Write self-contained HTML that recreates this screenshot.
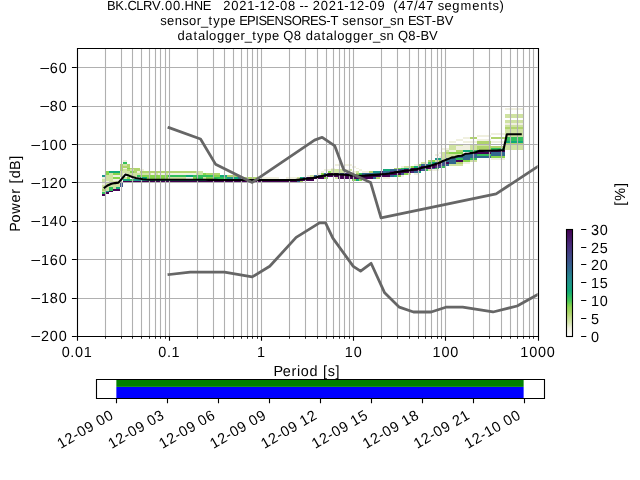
<!DOCTYPE html>
<html><head><meta charset="utf-8"><title>PPSD BK.CLRV.00.HNE</title>
<style>html,body{margin:0;padding:0;background:#fff;overflow:hidden}body{width:640px;height:480px}</style></head>
<body>
<svg width="640" height="480" viewBox="0 0 640 480" style="display:block;will-change:transform;font-family:'Liberation Sans',sans-serif" text-rendering="geometricPrecision">
<rect width="640" height="480" fill="#ffffff"/>
<defs><clipPath id="ca"><rect x="76.8" y="48" width="460.8" height="288"/></clipPath>
<linearGradient id="cbg" x1="0" y1="1" x2="0" y2="0"><stop offset="0" stop-color="#ffffff"/><stop offset="0.03" stop-color="#f8f8f0"/><stop offset="0.07" stop-color="#f1f1e1"/><stop offset="0.1" stop-color="#e2eac6"/><stop offset="0.13" stop-color="#d3e4a9"/><stop offset="0.17" stop-color="#c4dd8f"/><stop offset="0.2" stop-color="#b6d776"/><stop offset="0.23" stop-color="#a4d463"/><stop offset="0.27" stop-color="#90d454"/><stop offset="0.3" stop-color="#72cf50"/><stop offset="0.33" stop-color="#4bc657"/><stop offset="0.37" stop-color="#2dbc61"/><stop offset="0.4" stop-color="#1db16e"/><stop offset="0.43" stop-color="#11a67a"/><stop offset="0.47" stop-color="#199e83"/><stop offset="0.5" stop-color="#1f958b"/><stop offset="0.53" stop-color="#238c8d"/><stop offset="0.57" stop-color="#26828e"/><stop offset="0.6" stop-color="#2b768e"/><stop offset="0.63" stop-color="#30698e"/><stop offset="0.67" stop-color="#355f8d"/><stop offset="0.7" stop-color="#3a558b"/><stop offset="0.73" stop-color="#3d4c88"/><stop offset="0.77" stop-color="#404385"/><stop offset="0.8" stop-color="#433a81"/><stop offset="0.83" stop-color="#46317d"/><stop offset="0.87" stop-color="#472877"/><stop offset="0.9" stop-color="#461e6e"/><stop offset="0.93" stop-color="#451565"/><stop offset="0.97" stop-color="#450b5d"/><stop offset="1" stop-color="#440154"/></linearGradient></defs>
<g shape-rendering="crispEdges">
<rect x="102" y="175" width="4" height="2" fill="#1f968b"/>
<rect x="102" y="177" width="4" height="2" fill="#f0f0df"/>
<rect x="102" y="179" width="4" height="2" fill="#cfe2a1"/>
<rect x="102" y="181" width="4" height="2" fill="#cfe2a1"/>
<rect x="102" y="183" width="4" height="2" fill="#f0f0df"/>
<rect x="102" y="185" width="4" height="2" fill="#cfe2a1"/>
<rect x="102" y="187" width="4" height="2" fill="#cfe2a1"/>
<rect x="102" y="189" width="4" height="2" fill="#b0d46c"/>
<rect x="102" y="191" width="4" height="1" fill="#cfe2a1"/>
<rect x="102" y="192" width="4" height="2" fill="#33c05c"/>
<rect x="102" y="194" width="4" height="2" fill="#440154"/>
<rect x="106" y="171" width="3" height="2" fill="#86d44c"/>
<rect x="106" y="173" width="3" height="2" fill="#86d44c"/>
<rect x="106" y="175" width="3" height="2" fill="#cfe2a1"/>
<rect x="106" y="177" width="3" height="2" fill="#cfe2a1"/>
<rect x="106" y="179" width="3" height="2" fill="#cfe2a1"/>
<rect x="106" y="181" width="3" height="2" fill="#f0f0df"/>
<rect x="106" y="183" width="3" height="2" fill="#cfe2a1"/>
<rect x="106" y="185" width="3" height="2" fill="#cfe2a1"/>
<rect x="106" y="187" width="3" height="2" fill="#cfe2a1"/>
<rect x="106" y="189" width="3" height="2" fill="#cfe2a1"/>
<rect x="106" y="191" width="3" height="1" fill="#1f968b"/>
<rect x="106" y="192" width="3" height="2" fill="#440154"/>
<rect x="109" y="171" width="4" height="2" fill="#11a878"/>
<rect x="109" y="173" width="4" height="2" fill="#cfe2a1"/>
<rect x="109" y="175" width="4" height="2" fill="#cfe2a1"/>
<rect x="109" y="177" width="4" height="2" fill="#cfe2a1"/>
<rect x="109" y="179" width="4" height="2" fill="#cfe2a1"/>
<rect x="109" y="181" width="4" height="2" fill="#cfe2a1"/>
<rect x="109" y="183" width="4" height="2" fill="#cfe2a1"/>
<rect x="109" y="185" width="4" height="2" fill="#cfe2a1"/>
<rect x="109" y="187" width="4" height="2" fill="#33c05c"/>
<rect x="109" y="189" width="4" height="2" fill="#33c05c"/>
<rect x="109" y="191" width="4" height="1" fill="#440154"/>
<rect x="113" y="171" width="3" height="2" fill="#11a878"/>
<rect x="113" y="173" width="3" height="2" fill="#86d44c"/>
<rect x="113" y="175" width="3" height="2" fill="#f0f0df"/>
<rect x="113" y="177" width="3" height="2" fill="#86d44c"/>
<rect x="113" y="179" width="3" height="2" fill="#f0f0df"/>
<rect x="113" y="181" width="3" height="2" fill="#cfe2a1"/>
<rect x="113" y="183" width="3" height="2" fill="#cfe2a1"/>
<rect x="113" y="185" width="3" height="2" fill="#cfe2a1"/>
<rect x="113" y="187" width="3" height="2" fill="#cfe2a1"/>
<rect x="113" y="189" width="3" height="2" fill="#440154"/>
<rect x="116" y="171" width="4" height="2" fill="#11a878"/>
<rect x="116" y="173" width="4" height="2" fill="#86d44c"/>
<rect x="116" y="175" width="4" height="2" fill="#f0f0df"/>
<rect x="116" y="177" width="4" height="2" fill="#86d44c"/>
<rect x="116" y="179" width="4" height="2" fill="#f0f0df"/>
<rect x="116" y="181" width="4" height="2" fill="#cfe2a1"/>
<rect x="116" y="183" width="4" height="2" fill="#cfe2a1"/>
<rect x="116" y="185" width="4" height="2" fill="#cfe2a1"/>
<rect x="116" y="187" width="4" height="2" fill="#11a878"/>
<rect x="116" y="189" width="4" height="2" fill="#440154"/>
<rect x="120" y="164" width="3" height="2" fill="#b0d46c"/>
<rect x="120" y="166" width="3" height="2" fill="#b0d46c"/>
<rect x="120" y="168" width="3" height="1" fill="#b0d46c"/>
<rect x="120" y="169" width="3" height="2" fill="#b0d46c"/>
<rect x="120" y="171" width="3" height="2" fill="#cfe2a1"/>
<rect x="120" y="173" width="3" height="2" fill="#cfe2a1"/>
<rect x="120" y="175" width="3" height="2" fill="#cfe2a1"/>
<rect x="120" y="183" width="3" height="2" fill="#3b528b"/>
<rect x="120" y="185" width="3" height="2" fill="#3b528b"/>
<rect x="123" y="160" width="4" height="2" fill="#f0f0df"/>
<rect x="123" y="162" width="4" height="2" fill="#33c05c"/>
<rect x="123" y="164" width="4" height="2" fill="#cfe2a1"/>
<rect x="123" y="166" width="4" height="2" fill="#b0d46c"/>
<rect x="123" y="168" width="4" height="1" fill="#f0f0df"/>
<rect x="123" y="169" width="4" height="2" fill="#cfe2a1"/>
<rect x="123" y="171" width="4" height="2" fill="#cfe2a1"/>
<rect x="123" y="173" width="4" height="2" fill="#f0f0df"/>
<rect x="123" y="177" width="4" height="2" fill="#cfe2a1"/>
<rect x="123" y="179" width="4" height="2" fill="#11a878"/>
<rect x="123" y="181" width="4" height="2" fill="#440154"/>
<rect x="127" y="164" width="3" height="2" fill="#b0d46c"/>
<rect x="127" y="166" width="3" height="2" fill="#b0d46c"/>
<rect x="127" y="168" width="3" height="1" fill="#86d44c"/>
<rect x="127" y="169" width="3" height="2" fill="#b0d46c"/>
<rect x="127" y="171" width="3" height="2" fill="#cfe2a1"/>
<rect x="127" y="173" width="3" height="2" fill="#cfe2a1"/>
<rect x="127" y="175" width="3" height="2" fill="#cfe2a1"/>
<rect x="127" y="177" width="3" height="2" fill="#86d44c"/>
<rect x="127" y="179" width="3" height="2" fill="#11a878"/>
<rect x="127" y="181" width="3" height="2" fill="#440154"/>
<rect x="130" y="168" width="4" height="1" fill="#b0d46c"/>
<rect x="130" y="169" width="4" height="2" fill="#cfe2a1"/>
<rect x="130" y="171" width="4" height="2" fill="#86d44c"/>
<rect x="130" y="173" width="4" height="2" fill="#cfe2a1"/>
<rect x="130" y="175" width="4" height="2" fill="#cfe2a1"/>
<rect x="130" y="179" width="4" height="2" fill="#33c05c"/>
<rect x="130" y="181" width="4" height="2" fill="#440154"/>
<rect x="134" y="168" width="3" height="1" fill="#b0d46c"/>
<rect x="134" y="169" width="3" height="2" fill="#b0d46c"/>
<rect x="134" y="171" width="3" height="2" fill="#b0d46c"/>
<rect x="134" y="173" width="3" height="2" fill="#cfe2a1"/>
<rect x="134" y="175" width="3" height="2" fill="#cfe2a1"/>
<rect x="134" y="179" width="3" height="2" fill="#1f968b"/>
<rect x="134" y="181" width="3" height="2" fill="#440154"/>
<rect x="137" y="168" width="3" height="1" fill="#b0d46c"/>
<rect x="137" y="169" width="3" height="2" fill="#b0d46c"/>
<rect x="137" y="171" width="3" height="2" fill="#f0f0df"/>
<rect x="137" y="173" width="3" height="2" fill="#cfe2a1"/>
<rect x="137" y="175" width="3" height="2" fill="#33c05c"/>
<rect x="137" y="179" width="3" height="2" fill="#1f968b"/>
<rect x="137" y="181" width="3" height="2" fill="#440154"/>
<rect x="140" y="169" width="4" height="2" fill="#f0f0df"/>
<rect x="140" y="171" width="4" height="2" fill="#b0d46c"/>
<rect x="140" y="173" width="4" height="2" fill="#cfe2a1"/>
<rect x="140" y="175" width="4" height="2" fill="#86d44c"/>
<rect x="140" y="177" width="4" height="2" fill="#11a878"/>
<rect x="140" y="179" width="4" height="2" fill="#1f968b"/>
<rect x="140" y="181" width="4" height="2" fill="#440154"/>
<rect x="144" y="171" width="3" height="2" fill="#b0d46c"/>
<rect x="144" y="173" width="3" height="2" fill="#cfe2a1"/>
<rect x="144" y="175" width="3" height="2" fill="#86d44c"/>
<rect x="144" y="177" width="3" height="2" fill="#11a878"/>
<rect x="144" y="179" width="3" height="2" fill="#1f968b"/>
<rect x="144" y="181" width="3" height="2" fill="#440154"/>
<rect x="147" y="171" width="4" height="2" fill="#b0d46c"/>
<rect x="147" y="173" width="4" height="2" fill="#cfe2a1"/>
<rect x="147" y="175" width="4" height="2" fill="#86d44c"/>
<rect x="147" y="177" width="4" height="2" fill="#86d44c"/>
<rect x="147" y="179" width="4" height="2" fill="#1f968b"/>
<rect x="147" y="181" width="4" height="2" fill="#440154"/>
<rect x="151" y="171" width="3" height="2" fill="#b0d46c"/>
<rect x="151" y="173" width="3" height="2" fill="#f0f0df"/>
<rect x="151" y="175" width="3" height="2" fill="#86d44c"/>
<rect x="151" y="177" width="3" height="2" fill="#86d44c"/>
<rect x="151" y="179" width="3" height="2" fill="#1f968b"/>
<rect x="151" y="181" width="3" height="2" fill="#440154"/>
<rect x="154" y="171" width="4" height="2" fill="#b0d46c"/>
<rect x="154" y="173" width="4" height="2" fill="#cfe2a1"/>
<rect x="154" y="175" width="4" height="2" fill="#86d44c"/>
<rect x="154" y="177" width="4" height="2" fill="#86d44c"/>
<rect x="154" y="179" width="4" height="2" fill="#1f968b"/>
<rect x="154" y="181" width="4" height="2" fill="#440154"/>
<rect x="158" y="171" width="3" height="2" fill="#b0d46c"/>
<rect x="158" y="173" width="3" height="2" fill="#f0f0df"/>
<rect x="158" y="175" width="3" height="2" fill="#86d44c"/>
<rect x="158" y="177" width="3" height="2" fill="#86d44c"/>
<rect x="158" y="179" width="3" height="2" fill="#1f968b"/>
<rect x="158" y="181" width="3" height="2" fill="#440154"/>
<rect x="161" y="171" width="4" height="2" fill="#b0d46c"/>
<rect x="161" y="173" width="4" height="2" fill="#f0f0df"/>
<rect x="161" y="175" width="4" height="2" fill="#86d44c"/>
<rect x="161" y="177" width="4" height="2" fill="#86d44c"/>
<rect x="161" y="179" width="4" height="2" fill="#1f968b"/>
<rect x="161" y="181" width="4" height="2" fill="#440154"/>
<rect x="165" y="171" width="3" height="2" fill="#b0d46c"/>
<rect x="165" y="173" width="3" height="2" fill="#cfe2a1"/>
<rect x="165" y="175" width="3" height="2" fill="#86d44c"/>
<rect x="165" y="177" width="3" height="2" fill="#86d44c"/>
<rect x="165" y="179" width="3" height="2" fill="#1f968b"/>
<rect x="165" y="181" width="3" height="2" fill="#440154"/>
<rect x="168" y="171" width="4" height="2" fill="#b0d46c"/>
<rect x="168" y="173" width="4" height="2" fill="#f0f0df"/>
<rect x="168" y="175" width="4" height="2" fill="#33c05c"/>
<rect x="168" y="177" width="4" height="2" fill="#cfe2a1"/>
<rect x="168" y="179" width="4" height="2" fill="#1f968b"/>
<rect x="168" y="181" width="4" height="2" fill="#440154"/>
<rect x="172" y="171" width="3" height="2" fill="#b0d46c"/>
<rect x="172" y="173" width="3" height="2" fill="#f0f0df"/>
<rect x="172" y="175" width="3" height="2" fill="#33c05c"/>
<rect x="172" y="177" width="3" height="2" fill="#cfe2a1"/>
<rect x="172" y="179" width="3" height="2" fill="#1f968b"/>
<rect x="172" y="181" width="3" height="2" fill="#440154"/>
<rect x="175" y="171" width="4" height="2" fill="#b0d46c"/>
<rect x="175" y="173" width="4" height="2" fill="#f0f0df"/>
<rect x="175" y="175" width="4" height="2" fill="#33c05c"/>
<rect x="175" y="177" width="4" height="2" fill="#cfe2a1"/>
<rect x="175" y="179" width="4" height="2" fill="#1f968b"/>
<rect x="175" y="181" width="4" height="2" fill="#440154"/>
<rect x="179" y="171" width="3" height="2" fill="#b0d46c"/>
<rect x="179" y="173" width="3" height="2" fill="#f0f0df"/>
<rect x="179" y="175" width="3" height="2" fill="#33c05c"/>
<rect x="179" y="177" width="3" height="2" fill="#cfe2a1"/>
<rect x="179" y="179" width="3" height="2" fill="#1f968b"/>
<rect x="179" y="181" width="3" height="2" fill="#440154"/>
<rect x="182" y="171" width="4" height="2" fill="#b0d46c"/>
<rect x="182" y="173" width="4" height="2" fill="#f0f0df"/>
<rect x="182" y="175" width="4" height="2" fill="#33c05c"/>
<rect x="182" y="177" width="4" height="2" fill="#cfe2a1"/>
<rect x="182" y="179" width="4" height="2" fill="#1f968b"/>
<rect x="182" y="181" width="4" height="2" fill="#440154"/>
<rect x="186" y="171" width="3" height="2" fill="#b0d46c"/>
<rect x="186" y="173" width="3" height="2" fill="#f0f0df"/>
<rect x="186" y="175" width="3" height="2" fill="#11a878"/>
<rect x="186" y="177" width="3" height="2" fill="#f0f0df"/>
<rect x="186" y="179" width="3" height="2" fill="#1f968b"/>
<rect x="186" y="181" width="3" height="2" fill="#440154"/>
<rect x="189" y="171" width="4" height="2" fill="#b0d46c"/>
<rect x="189" y="173" width="4" height="2" fill="#f0f0df"/>
<rect x="189" y="175" width="4" height="2" fill="#11a878"/>
<rect x="189" y="177" width="4" height="2" fill="#f0f0df"/>
<rect x="189" y="179" width="4" height="2" fill="#1f968b"/>
<rect x="189" y="181" width="4" height="2" fill="#440154"/>
<rect x="193" y="171" width="3" height="2" fill="#b0d46c"/>
<rect x="193" y="173" width="3" height="2" fill="#f0f0df"/>
<rect x="193" y="175" width="3" height="2" fill="#33c05c"/>
<rect x="193" y="177" width="3" height="2" fill="#86d44c"/>
<rect x="193" y="179" width="3" height="2" fill="#1f968b"/>
<rect x="193" y="181" width="3" height="2" fill="#440154"/>
<rect x="196" y="171" width="3" height="2" fill="#cfe2a1"/>
<rect x="196" y="173" width="3" height="2" fill="#cfe2a1"/>
<rect x="196" y="175" width="3" height="2" fill="#33c05c"/>
<rect x="196" y="177" width="3" height="2" fill="#33c05c"/>
<rect x="196" y="179" width="3" height="2" fill="#1f968b"/>
<rect x="196" y="181" width="3" height="2" fill="#440154"/>
<rect x="199" y="171" width="4" height="2" fill="#cfe2a1"/>
<rect x="199" y="173" width="4" height="2" fill="#cfe2a1"/>
<rect x="199" y="175" width="4" height="2" fill="#33c05c"/>
<rect x="199" y="177" width="4" height="2" fill="#33c05c"/>
<rect x="199" y="179" width="4" height="2" fill="#1f968b"/>
<rect x="199" y="181" width="4" height="2" fill="#440154"/>
<rect x="203" y="173" width="3" height="2" fill="#86d44c"/>
<rect x="203" y="175" width="3" height="2" fill="#33c05c"/>
<rect x="203" y="177" width="3" height="2" fill="#cfe2a1"/>
<rect x="203" y="179" width="3" height="2" fill="#1f968b"/>
<rect x="203" y="181" width="3" height="2" fill="#440154"/>
<rect x="206" y="173" width="4" height="2" fill="#b0d46c"/>
<rect x="206" y="175" width="4" height="2" fill="#33c05c"/>
<rect x="206" y="177" width="4" height="2" fill="#86d44c"/>
<rect x="206" y="179" width="4" height="2" fill="#1f968b"/>
<rect x="206" y="181" width="4" height="2" fill="#440154"/>
<rect x="210" y="173" width="3" height="2" fill="#b0d46c"/>
<rect x="210" y="175" width="3" height="2" fill="#33c05c"/>
<rect x="210" y="177" width="3" height="2" fill="#86d44c"/>
<rect x="210" y="179" width="3" height="2" fill="#1f968b"/>
<rect x="210" y="181" width="3" height="2" fill="#440154"/>
<rect x="213" y="173" width="4" height="2" fill="#b0d46c"/>
<rect x="213" y="175" width="4" height="2" fill="#86d44c"/>
<rect x="213" y="177" width="4" height="2" fill="#33c05c"/>
<rect x="213" y="179" width="4" height="2" fill="#1f968b"/>
<rect x="213" y="181" width="4" height="2" fill="#440154"/>
<rect x="217" y="173" width="3" height="2" fill="#b0d46c"/>
<rect x="217" y="175" width="3" height="2" fill="#86d44c"/>
<rect x="217" y="177" width="3" height="2" fill="#33c05c"/>
<rect x="217" y="179" width="3" height="2" fill="#1f968b"/>
<rect x="217" y="181" width="3" height="2" fill="#440154"/>
<rect x="220" y="175" width="4" height="2" fill="#11a878"/>
<rect x="220" y="177" width="4" height="2" fill="#33c05c"/>
<rect x="220" y="179" width="4" height="2" fill="#1f968b"/>
<rect x="220" y="181" width="4" height="2" fill="#440154"/>
<rect x="224" y="175" width="3" height="2" fill="#11a878"/>
<rect x="224" y="177" width="3" height="2" fill="#33c05c"/>
<rect x="224" y="179" width="3" height="2" fill="#1f968b"/>
<rect x="224" y="181" width="3" height="2" fill="#440154"/>
<rect x="227" y="175" width="4" height="2" fill="#b0d46c"/>
<rect x="227" y="177" width="4" height="2" fill="#1f968b"/>
<rect x="227" y="179" width="4" height="2" fill="#1f968b"/>
<rect x="227" y="181" width="4" height="2" fill="#440154"/>
<rect x="231" y="175" width="3" height="2" fill="#b0d46c"/>
<rect x="231" y="177" width="3" height="2" fill="#1f968b"/>
<rect x="231" y="179" width="3" height="2" fill="#1f968b"/>
<rect x="231" y="181" width="3" height="2" fill="#440154"/>
<rect x="234" y="175" width="4" height="2" fill="#b0d46c"/>
<rect x="234" y="177" width="4" height="2" fill="#11a878"/>
<rect x="234" y="179" width="4" height="2" fill="#1f968b"/>
<rect x="234" y="181" width="4" height="2" fill="#440154"/>
<rect x="238" y="177" width="3" height="2" fill="#31688e"/>
<rect x="238" y="179" width="3" height="2" fill="#1f968b"/>
<rect x="238" y="181" width="3" height="2" fill="#440154"/>
<rect x="241" y="177" width="4" height="2" fill="#b0d46c"/>
<rect x="241" y="179" width="4" height="2" fill="#1f968b"/>
<rect x="241" y="181" width="4" height="2" fill="#440154"/>
<rect x="245" y="177" width="3" height="2" fill="#b0d46c"/>
<rect x="245" y="179" width="3" height="2" fill="#1f968b"/>
<rect x="245" y="181" width="3" height="2" fill="#440154"/>
<rect x="248" y="177" width="3" height="2" fill="#b0d46c"/>
<rect x="248" y="179" width="3" height="2" fill="#1f968b"/>
<rect x="248" y="181" width="3" height="2" fill="#440154"/>
<rect x="251" y="177" width="4" height="2" fill="#b0d46c"/>
<rect x="251" y="179" width="4" height="2" fill="#1f968b"/>
<rect x="251" y="181" width="4" height="2" fill="#440154"/>
<rect x="255" y="177" width="3" height="2" fill="#b0d46c"/>
<rect x="255" y="179" width="3" height="2" fill="#1f968b"/>
<rect x="255" y="181" width="3" height="2" fill="#440154"/>
<rect x="258" y="179" width="4" height="2" fill="#1f968b"/>
<rect x="258" y="181" width="4" height="2" fill="#440154"/>
<rect x="262" y="177" width="3" height="2" fill="#f0f0df"/>
<rect x="262" y="179" width="3" height="2" fill="#1f968b"/>
<rect x="262" y="181" width="3" height="2" fill="#440154"/>
<rect x="265" y="177" width="4" height="2" fill="#f0f0df"/>
<rect x="265" y="179" width="4" height="2" fill="#1f968b"/>
<rect x="265" y="181" width="4" height="2" fill="#440154"/>
<rect x="269" y="177" width="3" height="2" fill="#f0f0df"/>
<rect x="269" y="179" width="3" height="2" fill="#1f968b"/>
<rect x="269" y="181" width="3" height="2" fill="#440154"/>
<rect x="272" y="177" width="4" height="2" fill="#f0f0df"/>
<rect x="272" y="179" width="4" height="2" fill="#1f968b"/>
<rect x="272" y="181" width="4" height="2" fill="#440154"/>
<rect x="276" y="177" width="3" height="2" fill="#f0f0df"/>
<rect x="276" y="179" width="3" height="2" fill="#1f968b"/>
<rect x="276" y="181" width="3" height="2" fill="#440154"/>
<rect x="279" y="179" width="4" height="2" fill="#1f968b"/>
<rect x="279" y="181" width="4" height="2" fill="#440154"/>
<rect x="283" y="179" width="3" height="2" fill="#1f968b"/>
<rect x="283" y="181" width="3" height="2" fill="#440154"/>
<rect x="286" y="177" width="4" height="2" fill="#f0f0df"/>
<rect x="286" y="179" width="4" height="2" fill="#1f968b"/>
<rect x="286" y="181" width="4" height="2" fill="#440154"/>
<rect x="290" y="177" width="3" height="2" fill="#f0f0df"/>
<rect x="290" y="179" width="3" height="2" fill="#1f968b"/>
<rect x="290" y="181" width="3" height="2" fill="#440154"/>
<rect x="293" y="177" width="4" height="2" fill="#f0f0df"/>
<rect x="293" y="179" width="4" height="2" fill="#1f968b"/>
<rect x="293" y="181" width="4" height="2" fill="#440154"/>
<rect x="297" y="177" width="3" height="2" fill="#cfe2a1"/>
<rect x="297" y="179" width="3" height="2" fill="#440154"/>
<rect x="297" y="181" width="3" height="2" fill="#31688e"/>
<rect x="300" y="177" width="3" height="2" fill="#11a878"/>
<rect x="300" y="179" width="3" height="2" fill="#440154"/>
<rect x="300" y="181" width="3" height="2" fill="#b0d46c"/>
<rect x="303" y="177" width="4" height="2" fill="#3b528b"/>
<rect x="303" y="179" width="4" height="2" fill="#440154"/>
<rect x="307" y="175" width="3" height="2" fill="#f0f0df"/>
<rect x="307" y="177" width="3" height="2" fill="#440154"/>
<rect x="307" y="179" width="3" height="2" fill="#440154"/>
<rect x="310" y="175" width="4" height="2" fill="#cfe2a1"/>
<rect x="310" y="177" width="4" height="2" fill="#440154"/>
<rect x="310" y="179" width="4" height="2" fill="#440154"/>
<rect x="314" y="175" width="3" height="2" fill="#31688e"/>
<rect x="314" y="177" width="3" height="2" fill="#440154"/>
<rect x="317" y="173" width="4" height="2" fill="#f0f0df"/>
<rect x="317" y="175" width="4" height="2" fill="#3b528b"/>
<rect x="317" y="177" width="4" height="2" fill="#440154"/>
<rect x="321" y="171" width="3" height="2" fill="#f0f0df"/>
<rect x="321" y="173" width="3" height="2" fill="#86d44c"/>
<rect x="321" y="175" width="3" height="2" fill="#3b528b"/>
<rect x="321" y="177" width="3" height="2" fill="#440154"/>
<rect x="324" y="169" width="4" height="2" fill="#f0f0df"/>
<rect x="324" y="173" width="4" height="2" fill="#31688e"/>
<rect x="324" y="175" width="4" height="2" fill="#440154"/>
<rect x="324" y="177" width="4" height="2" fill="#86d44c"/>
<rect x="328" y="169" width="3" height="2" fill="#f0f0df"/>
<rect x="328" y="171" width="3" height="2" fill="#86d44c"/>
<rect x="328" y="173" width="3" height="2" fill="#440154"/>
<rect x="328" y="175" width="3" height="2" fill="#440154"/>
<rect x="331" y="168" width="4" height="1" fill="#f0f0df"/>
<rect x="331" y="169" width="4" height="2" fill="#cfe2a1"/>
<rect x="331" y="171" width="4" height="2" fill="#cfe2a1"/>
<rect x="331" y="173" width="4" height="2" fill="#440154"/>
<rect x="331" y="175" width="4" height="2" fill="#440154"/>
<rect x="335" y="164" width="3" height="2" fill="#f0f0df"/>
<rect x="335" y="169" width="3" height="2" fill="#cfe2a1"/>
<rect x="335" y="171" width="3" height="2" fill="#cfe2a1"/>
<rect x="335" y="173" width="3" height="2" fill="#440154"/>
<rect x="335" y="175" width="3" height="2" fill="#440154"/>
<rect x="335" y="177" width="3" height="2" fill="#cfe2a1"/>
<rect x="338" y="164" width="4" height="2" fill="#f0f0df"/>
<rect x="338" y="169" width="4" height="2" fill="#cfe2a1"/>
<rect x="338" y="171" width="4" height="2" fill="#cfe2a1"/>
<rect x="338" y="173" width="4" height="2" fill="#3b528b"/>
<rect x="338" y="175" width="4" height="2" fill="#440154"/>
<rect x="338" y="177" width="4" height="2" fill="#440154"/>
<rect x="342" y="169" width="3" height="2" fill="#cfe2a1"/>
<rect x="342" y="171" width="3" height="2" fill="#cfe2a1"/>
<rect x="342" y="173" width="3" height="2" fill="#3b528b"/>
<rect x="342" y="175" width="3" height="2" fill="#440154"/>
<rect x="342" y="177" width="3" height="2" fill="#440154"/>
<rect x="345" y="164" width="4" height="2" fill="#f0f0df"/>
<rect x="345" y="169" width="4" height="2" fill="#f0f0df"/>
<rect x="345" y="173" width="4" height="2" fill="#472d7b"/>
<rect x="345" y="175" width="4" height="2" fill="#440154"/>
<rect x="345" y="177" width="4" height="2" fill="#440154"/>
<rect x="349" y="164" width="3" height="2" fill="#f0f0df"/>
<rect x="349" y="169" width="3" height="2" fill="#cfe2a1"/>
<rect x="349" y="173" width="3" height="2" fill="#31688e"/>
<rect x="349" y="175" width="3" height="2" fill="#440154"/>
<rect x="349" y="177" width="3" height="2" fill="#440154"/>
<rect x="352" y="166" width="4" height="2" fill="#f0f0df"/>
<rect x="352" y="171" width="4" height="2" fill="#f0f0df"/>
<rect x="352" y="175" width="4" height="2" fill="#440154"/>
<rect x="352" y="177" width="4" height="2" fill="#440154"/>
<rect x="352" y="179" width="4" height="2" fill="#86d44c"/>
<rect x="356" y="168" width="3" height="1" fill="#f0f0df"/>
<rect x="356" y="171" width="3" height="2" fill="#cfe2a1"/>
<rect x="356" y="173" width="3" height="2" fill="#b0d46c"/>
<rect x="356" y="175" width="3" height="2" fill="#440154"/>
<rect x="356" y="177" width="3" height="2" fill="#440154"/>
<rect x="356" y="179" width="3" height="2" fill="#11a878"/>
<rect x="359" y="169" width="3" height="2" fill="#f0f0df"/>
<rect x="359" y="173" width="3" height="2" fill="#33c05c"/>
<rect x="359" y="175" width="3" height="2" fill="#440154"/>
<rect x="359" y="177" width="3" height="2" fill="#440154"/>
<rect x="359" y="179" width="3" height="2" fill="#86d44c"/>
<rect x="362" y="171" width="4" height="2" fill="#f0f0df"/>
<rect x="362" y="173" width="4" height="2" fill="#31688e"/>
<rect x="362" y="175" width="4" height="2" fill="#440154"/>
<rect x="362" y="177" width="4" height="2" fill="#440154"/>
<rect x="366" y="171" width="3" height="2" fill="#f0f0df"/>
<rect x="366" y="173" width="3" height="2" fill="#31688e"/>
<rect x="366" y="175" width="3" height="2" fill="#440154"/>
<rect x="366" y="177" width="3" height="2" fill="#440154"/>
<rect x="369" y="171" width="4" height="2" fill="#b0d46c"/>
<rect x="369" y="173" width="4" height="2" fill="#31688e"/>
<rect x="369" y="175" width="4" height="2" fill="#440154"/>
<rect x="369" y="177" width="4" height="2" fill="#440154"/>
<rect x="373" y="171" width="3" height="2" fill="#1f968b"/>
<rect x="373" y="173" width="3" height="2" fill="#31688e"/>
<rect x="373" y="175" width="3" height="2" fill="#440154"/>
<rect x="373" y="177" width="3" height="2" fill="#31688e"/>
<rect x="376" y="171" width="4" height="2" fill="#1f968b"/>
<rect x="376" y="173" width="4" height="2" fill="#31688e"/>
<rect x="376" y="175" width="4" height="2" fill="#440154"/>
<rect x="376" y="177" width="4" height="2" fill="#b0d46c"/>
<rect x="380" y="171" width="3" height="2" fill="#472d7b"/>
<rect x="380" y="173" width="3" height="2" fill="#440154"/>
<rect x="380" y="175" width="3" height="2" fill="#440154"/>
<rect x="383" y="169" width="4" height="2" fill="#11a878"/>
<rect x="383" y="171" width="4" height="2" fill="#31688e"/>
<rect x="383" y="173" width="4" height="2" fill="#440154"/>
<rect x="383" y="175" width="4" height="2" fill="#440154"/>
<rect x="383" y="177" width="4" height="2" fill="#f0f0df"/>
<rect x="387" y="169" width="3" height="2" fill="#11a878"/>
<rect x="387" y="171" width="3" height="2" fill="#31688e"/>
<rect x="387" y="173" width="3" height="2" fill="#440154"/>
<rect x="387" y="175" width="3" height="2" fill="#440154"/>
<rect x="387" y="177" width="3" height="2" fill="#f0f0df"/>
<rect x="390" y="169" width="4" height="2" fill="#31688e"/>
<rect x="390" y="171" width="4" height="2" fill="#472d7b"/>
<rect x="390" y="173" width="4" height="2" fill="#440154"/>
<rect x="390" y="175" width="4" height="2" fill="#31688e"/>
<rect x="394" y="168" width="3" height="1" fill="#b0d46c"/>
<rect x="394" y="169" width="3" height="2" fill="#31688e"/>
<rect x="394" y="171" width="3" height="2" fill="#440154"/>
<rect x="394" y="173" width="3" height="2" fill="#440154"/>
<rect x="394" y="175" width="3" height="2" fill="#11a878"/>
<rect x="397" y="168" width="4" height="1" fill="#86d44c"/>
<rect x="397" y="169" width="4" height="2" fill="#3b528b"/>
<rect x="397" y="171" width="4" height="2" fill="#440154"/>
<rect x="397" y="173" width="4" height="2" fill="#440154"/>
<rect x="397" y="175" width="4" height="2" fill="#86d44c"/>
<rect x="401" y="166" width="3" height="2" fill="#f0f0df"/>
<rect x="401" y="168" width="3" height="1" fill="#33c05c"/>
<rect x="401" y="169" width="3" height="2" fill="#31688e"/>
<rect x="401" y="171" width="3" height="2" fill="#440154"/>
<rect x="401" y="173" width="3" height="2" fill="#3b528b"/>
<rect x="401" y="175" width="3" height="2" fill="#f0f0df"/>
<rect x="404" y="166" width="4" height="2" fill="#cfe2a1"/>
<rect x="404" y="168" width="4" height="1" fill="#11a878"/>
<rect x="404" y="169" width="4" height="2" fill="#440154"/>
<rect x="404" y="171" width="4" height="2" fill="#440154"/>
<rect x="404" y="173" width="4" height="2" fill="#86d44c"/>
<rect x="408" y="166" width="3" height="2" fill="#cfe2a1"/>
<rect x="408" y="168" width="3" height="1" fill="#1f968b"/>
<rect x="408" y="169" width="3" height="2" fill="#472d7b"/>
<rect x="408" y="171" width="3" height="2" fill="#440154"/>
<rect x="408" y="173" width="3" height="2" fill="#cfe2a1"/>
<rect x="411" y="166" width="3" height="2" fill="#86d44c"/>
<rect x="411" y="168" width="3" height="1" fill="#440154"/>
<rect x="411" y="169" width="3" height="2" fill="#440154"/>
<rect x="411" y="171" width="3" height="2" fill="#472d7b"/>
<rect x="414" y="164" width="4" height="2" fill="#f0f0df"/>
<rect x="414" y="166" width="4" height="2" fill="#11a878"/>
<rect x="414" y="168" width="4" height="1" fill="#440154"/>
<rect x="414" y="169" width="4" height="2" fill="#440154"/>
<rect x="414" y="171" width="4" height="2" fill="#31688e"/>
<rect x="414" y="173" width="4" height="2" fill="#f0f0df"/>
<rect x="418" y="164" width="3" height="2" fill="#86d44c"/>
<rect x="418" y="166" width="3" height="2" fill="#31688e"/>
<rect x="418" y="168" width="3" height="1" fill="#440154"/>
<rect x="418" y="169" width="3" height="2" fill="#440154"/>
<rect x="418" y="171" width="3" height="2" fill="#11a878"/>
<rect x="421" y="162" width="4" height="2" fill="#cfe2a1"/>
<rect x="421" y="164" width="4" height="2" fill="#31688e"/>
<rect x="421" y="166" width="4" height="2" fill="#440154"/>
<rect x="421" y="168" width="4" height="1" fill="#3b528b"/>
<rect x="421" y="169" width="4" height="2" fill="#3b528b"/>
<rect x="425" y="162" width="3" height="2" fill="#f0f0df"/>
<rect x="425" y="164" width="3" height="2" fill="#31688e"/>
<rect x="425" y="166" width="3" height="2" fill="#440154"/>
<rect x="425" y="168" width="3" height="1" fill="#440154"/>
<rect x="425" y="169" width="3" height="2" fill="#33c05c"/>
<rect x="428" y="160" width="4" height="2" fill="#b0d46c"/>
<rect x="428" y="162" width="4" height="2" fill="#33c05c"/>
<rect x="428" y="164" width="4" height="2" fill="#31688e"/>
<rect x="428" y="166" width="4" height="2" fill="#440154"/>
<rect x="428" y="168" width="4" height="1" fill="#440154"/>
<rect x="428" y="169" width="4" height="2" fill="#cfe2a1"/>
<rect x="432" y="160" width="3" height="2" fill="#86d44c"/>
<rect x="432" y="162" width="3" height="2" fill="#11a878"/>
<rect x="432" y="164" width="3" height="2" fill="#440154"/>
<rect x="432" y="166" width="3" height="2" fill="#440154"/>
<rect x="432" y="168" width="3" height="1" fill="#3b528b"/>
<rect x="432" y="169" width="3" height="2" fill="#f0f0df"/>
<rect x="435" y="154" width="4" height="2" fill="#f0f0df"/>
<rect x="435" y="158" width="4" height="2" fill="#1f968b"/>
<rect x="435" y="160" width="4" height="2" fill="#cfe2a1"/>
<rect x="435" y="162" width="4" height="2" fill="#31688e"/>
<rect x="435" y="164" width="4" height="2" fill="#440154"/>
<rect x="435" y="166" width="4" height="2" fill="#472d7b"/>
<rect x="435" y="168" width="4" height="1" fill="#33c05c"/>
<rect x="435" y="169" width="4" height="2" fill="#f0f0df"/>
<rect x="439" y="152" width="3" height="2" fill="#f0f0df"/>
<rect x="439" y="156" width="3" height="2" fill="#f0f0df"/>
<rect x="439" y="158" width="3" height="2" fill="#11a878"/>
<rect x="439" y="160" width="3" height="2" fill="#86d44c"/>
<rect x="439" y="162" width="3" height="2" fill="#440154"/>
<rect x="439" y="164" width="3" height="2" fill="#472d7b"/>
<rect x="439" y="166" width="3" height="2" fill="#3b528b"/>
<rect x="442" y="148" width="4" height="2" fill="#f0f0df"/>
<rect x="442" y="152" width="4" height="2" fill="#cfe2a1"/>
<rect x="442" y="154" width="4" height="2" fill="#cfe2a1"/>
<rect x="442" y="156" width="4" height="2" fill="#cfe2a1"/>
<rect x="442" y="158" width="4" height="2" fill="#cfe2a1"/>
<rect x="442" y="160" width="4" height="2" fill="#31688e"/>
<rect x="442" y="162" width="4" height="2" fill="#3b528b"/>
<rect x="442" y="164" width="4" height="2" fill="#3b528b"/>
<rect x="442" y="166" width="4" height="2" fill="#33c05c"/>
<rect x="446" y="148" width="3" height="2" fill="#f0f0df"/>
<rect x="446" y="150" width="3" height="2" fill="#cfe2a1"/>
<rect x="446" y="152" width="3" height="2" fill="#b0d46c"/>
<rect x="446" y="154" width="3" height="2" fill="#cfe2a1"/>
<rect x="446" y="156" width="3" height="2" fill="#cfe2a1"/>
<rect x="446" y="158" width="3" height="2" fill="#31688e"/>
<rect x="446" y="160" width="3" height="2" fill="#31688e"/>
<rect x="446" y="162" width="3" height="2" fill="#440154"/>
<rect x="446" y="164" width="3" height="2" fill="#31688e"/>
<rect x="449" y="141" width="4" height="2" fill="#f0f0df"/>
<rect x="449" y="144" width="4" height="2" fill="#cfe2a1"/>
<rect x="449" y="146" width="4" height="2" fill="#cfe2a1"/>
<rect x="449" y="148" width="4" height="2" fill="#cfe2a1"/>
<rect x="449" y="150" width="4" height="2" fill="#f0f0df"/>
<rect x="449" y="152" width="4" height="2" fill="#86d44c"/>
<rect x="449" y="154" width="4" height="2" fill="#cfe2a1"/>
<rect x="449" y="156" width="4" height="2" fill="#cfe2a1"/>
<rect x="449" y="158" width="4" height="2" fill="#31688e"/>
<rect x="449" y="160" width="4" height="2" fill="#31688e"/>
<rect x="449" y="162" width="4" height="2" fill="#31688e"/>
<rect x="449" y="164" width="4" height="2" fill="#cfe2a1"/>
<rect x="453" y="141" width="3" height="2" fill="#f0f0df"/>
<rect x="453" y="144" width="3" height="2" fill="#cfe2a1"/>
<rect x="453" y="146" width="3" height="2" fill="#cfe2a1"/>
<rect x="453" y="148" width="3" height="2" fill="#cfe2a1"/>
<rect x="453" y="150" width="3" height="2" fill="#f0f0df"/>
<rect x="453" y="152" width="3" height="2" fill="#86d44c"/>
<rect x="453" y="154" width="3" height="2" fill="#cfe2a1"/>
<rect x="453" y="156" width="3" height="2" fill="#cfe2a1"/>
<rect x="453" y="158" width="3" height="2" fill="#31688e"/>
<rect x="453" y="160" width="3" height="2" fill="#31688e"/>
<rect x="453" y="162" width="3" height="2" fill="#31688e"/>
<rect x="453" y="164" width="3" height="2" fill="#cfe2a1"/>
<rect x="456" y="139" width="4" height="2" fill="#f0f0df"/>
<rect x="456" y="144" width="4" height="2" fill="#cfe2a1"/>
<rect x="456" y="146" width="4" height="2" fill="#f0f0df"/>
<rect x="456" y="148" width="4" height="2" fill="#f0f0df"/>
<rect x="456" y="150" width="4" height="2" fill="#b0d46c"/>
<rect x="456" y="152" width="4" height="2" fill="#86d44c"/>
<rect x="456" y="154" width="4" height="2" fill="#cfe2a1"/>
<rect x="456" y="156" width="4" height="2" fill="#31688e"/>
<rect x="456" y="158" width="4" height="2" fill="#33c05c"/>
<rect x="456" y="160" width="4" height="2" fill="#440154"/>
<rect x="456" y="162" width="4" height="2" fill="#b0d46c"/>
<rect x="456" y="164" width="4" height="2" fill="#cfe2a1"/>
<rect x="460" y="139" width="3" height="2" fill="#f0f0df"/>
<rect x="460" y="144" width="3" height="2" fill="#cfe2a1"/>
<rect x="460" y="146" width="3" height="2" fill="#f0f0df"/>
<rect x="460" y="148" width="3" height="2" fill="#f0f0df"/>
<rect x="460" y="150" width="3" height="2" fill="#b0d46c"/>
<rect x="460" y="152" width="3" height="2" fill="#86d44c"/>
<rect x="460" y="154" width="3" height="2" fill="#cfe2a1"/>
<rect x="460" y="156" width="3" height="2" fill="#31688e"/>
<rect x="460" y="158" width="3" height="2" fill="#33c05c"/>
<rect x="460" y="160" width="3" height="2" fill="#440154"/>
<rect x="460" y="162" width="3" height="2" fill="#b0d46c"/>
<rect x="460" y="164" width="3" height="2" fill="#cfe2a1"/>
<rect x="463" y="137" width="3" height="2" fill="#f0f0df"/>
<rect x="463" y="141" width="3" height="2" fill="#f0f0df"/>
<rect x="463" y="144" width="3" height="2" fill="#f0f0df"/>
<rect x="463" y="146" width="3" height="2" fill="#f0f0df"/>
<rect x="463" y="148" width="3" height="2" fill="#f0f0df"/>
<rect x="463" y="150" width="3" height="2" fill="#11a878"/>
<rect x="463" y="154" width="3" height="2" fill="#31688e"/>
<rect x="463" y="156" width="3" height="2" fill="#31688e"/>
<rect x="463" y="158" width="3" height="2" fill="#31688e"/>
<rect x="463" y="160" width="3" height="2" fill="#86d44c"/>
<rect x="463" y="162" width="3" height="2" fill="#f0f0df"/>
<rect x="466" y="137" width="4" height="2" fill="#f0f0df"/>
<rect x="466" y="141" width="4" height="2" fill="#f0f0df"/>
<rect x="466" y="144" width="4" height="2" fill="#f0f0df"/>
<rect x="466" y="146" width="4" height="2" fill="#f0f0df"/>
<rect x="466" y="148" width="4" height="2" fill="#f0f0df"/>
<rect x="466" y="150" width="4" height="2" fill="#11a878"/>
<rect x="466" y="154" width="4" height="2" fill="#31688e"/>
<rect x="466" y="156" width="4" height="2" fill="#31688e"/>
<rect x="466" y="158" width="4" height="2" fill="#31688e"/>
<rect x="466" y="160" width="4" height="2" fill="#86d44c"/>
<rect x="466" y="162" width="4" height="2" fill="#f0f0df"/>
<rect x="470" y="137" width="3" height="2" fill="#b0d46c"/>
<rect x="470" y="141" width="3" height="2" fill="#f0f0df"/>
<rect x="470" y="144" width="3" height="2" fill="#cfe2a1"/>
<rect x="470" y="146" width="3" height="2" fill="#cfe2a1"/>
<rect x="470" y="148" width="3" height="2" fill="#cfe2a1"/>
<rect x="470" y="150" width="3" height="2" fill="#33c05c"/>
<rect x="470" y="152" width="3" height="2" fill="#440154"/>
<rect x="470" y="154" width="3" height="2" fill="#31688e"/>
<rect x="470" y="156" width="3" height="2" fill="#31688e"/>
<rect x="470" y="158" width="3" height="2" fill="#33c05c"/>
<rect x="470" y="160" width="3" height="2" fill="#cfe2a1"/>
<rect x="473" y="137" width="4" height="2" fill="#b0d46c"/>
<rect x="473" y="141" width="4" height="2" fill="#f0f0df"/>
<rect x="473" y="144" width="4" height="2" fill="#cfe2a1"/>
<rect x="473" y="146" width="4" height="2" fill="#cfe2a1"/>
<rect x="473" y="148" width="4" height="2" fill="#cfe2a1"/>
<rect x="473" y="150" width="4" height="2" fill="#33c05c"/>
<rect x="473" y="152" width="4" height="2" fill="#440154"/>
<rect x="473" y="154" width="4" height="2" fill="#31688e"/>
<rect x="473" y="156" width="4" height="2" fill="#31688e"/>
<rect x="473" y="158" width="4" height="2" fill="#33c05c"/>
<rect x="473" y="160" width="4" height="2" fill="#cfe2a1"/>
<rect x="477" y="135" width="3" height="2" fill="#f0f0df"/>
<rect x="477" y="139" width="3" height="2" fill="#f0f0df"/>
<rect x="477" y="141" width="3" height="2" fill="#b0d46c"/>
<rect x="477" y="143" width="3" height="1" fill="#b0d46c"/>
<rect x="477" y="144" width="3" height="2" fill="#cfe2a1"/>
<rect x="477" y="146" width="3" height="2" fill="#b0d46c"/>
<rect x="477" y="148" width="3" height="2" fill="#b0d46c"/>
<rect x="477" y="150" width="3" height="2" fill="#31688e"/>
<rect x="477" y="152" width="3" height="2" fill="#440154"/>
<rect x="477" y="154" width="3" height="2" fill="#33c05c"/>
<rect x="477" y="156" width="3" height="2" fill="#31688e"/>
<rect x="480" y="135" width="4" height="2" fill="#f0f0df"/>
<rect x="480" y="139" width="4" height="2" fill="#f0f0df"/>
<rect x="480" y="141" width="4" height="2" fill="#b0d46c"/>
<rect x="480" y="143" width="4" height="1" fill="#b0d46c"/>
<rect x="480" y="144" width="4" height="2" fill="#cfe2a1"/>
<rect x="480" y="146" width="4" height="2" fill="#b0d46c"/>
<rect x="480" y="148" width="4" height="2" fill="#b0d46c"/>
<rect x="480" y="150" width="4" height="2" fill="#31688e"/>
<rect x="480" y="152" width="4" height="2" fill="#440154"/>
<rect x="480" y="154" width="4" height="2" fill="#33c05c"/>
<rect x="480" y="156" width="4" height="2" fill="#31688e"/>
<rect x="484" y="135" width="3" height="2" fill="#f0f0df"/>
<rect x="484" y="139" width="3" height="2" fill="#f0f0df"/>
<rect x="484" y="141" width="3" height="2" fill="#b0d46c"/>
<rect x="484" y="143" width="3" height="1" fill="#b0d46c"/>
<rect x="484" y="144" width="3" height="2" fill="#cfe2a1"/>
<rect x="484" y="146" width="3" height="2" fill="#b0d46c"/>
<rect x="484" y="148" width="3" height="2" fill="#b0d46c"/>
<rect x="484" y="150" width="3" height="2" fill="#31688e"/>
<rect x="484" y="152" width="3" height="2" fill="#440154"/>
<rect x="484" y="154" width="3" height="2" fill="#33c05c"/>
<rect x="484" y="156" width="3" height="2" fill="#31688e"/>
<rect x="487" y="135" width="4" height="2" fill="#f0f0df"/>
<rect x="487" y="139" width="4" height="2" fill="#f0f0df"/>
<rect x="487" y="141" width="4" height="2" fill="#b0d46c"/>
<rect x="487" y="143" width="4" height="1" fill="#b0d46c"/>
<rect x="487" y="144" width="4" height="2" fill="#cfe2a1"/>
<rect x="487" y="146" width="4" height="2" fill="#b0d46c"/>
<rect x="487" y="148" width="4" height="2" fill="#b0d46c"/>
<rect x="487" y="150" width="4" height="2" fill="#31688e"/>
<rect x="487" y="152" width="4" height="2" fill="#440154"/>
<rect x="487" y="154" width="4" height="2" fill="#33c05c"/>
<rect x="487" y="156" width="4" height="2" fill="#31688e"/>
<rect x="491" y="133" width="3" height="2" fill="#f0f0df"/>
<rect x="491" y="137" width="3" height="2" fill="#b0d46c"/>
<rect x="491" y="141" width="3" height="2" fill="#f0f0df"/>
<rect x="491" y="146" width="3" height="2" fill="#b0d46c"/>
<rect x="491" y="148" width="3" height="2" fill="#33c05c"/>
<rect x="491" y="150" width="3" height="2" fill="#440154"/>
<rect x="491" y="152" width="3" height="2" fill="#31688e"/>
<rect x="491" y="154" width="3" height="2" fill="#31688e"/>
<rect x="491" y="156" width="3" height="2" fill="#86d44c"/>
<rect x="491" y="158" width="3" height="2" fill="#f0f0df"/>
<rect x="494" y="133" width="4" height="2" fill="#f0f0df"/>
<rect x="494" y="137" width="4" height="2" fill="#b0d46c"/>
<rect x="494" y="141" width="4" height="2" fill="#f0f0df"/>
<rect x="494" y="146" width="4" height="2" fill="#b0d46c"/>
<rect x="494" y="148" width="4" height="2" fill="#33c05c"/>
<rect x="494" y="150" width="4" height="2" fill="#440154"/>
<rect x="494" y="152" width="4" height="2" fill="#31688e"/>
<rect x="494" y="154" width="4" height="2" fill="#31688e"/>
<rect x="494" y="156" width="4" height="2" fill="#86d44c"/>
<rect x="494" y="158" width="4" height="2" fill="#f0f0df"/>
<rect x="498" y="133" width="3" height="2" fill="#f0f0df"/>
<rect x="498" y="137" width="3" height="2" fill="#b0d46c"/>
<rect x="498" y="141" width="3" height="2" fill="#f0f0df"/>
<rect x="498" y="146" width="3" height="2" fill="#b0d46c"/>
<rect x="498" y="148" width="3" height="2" fill="#33c05c"/>
<rect x="498" y="150" width="3" height="2" fill="#440154"/>
<rect x="498" y="152" width="3" height="2" fill="#31688e"/>
<rect x="498" y="154" width="3" height="2" fill="#31688e"/>
<rect x="498" y="156" width="3" height="2" fill="#86d44c"/>
<rect x="498" y="158" width="3" height="2" fill="#f0f0df"/>
<rect x="501" y="133" width="4" height="2" fill="#f0f0df"/>
<rect x="501" y="137" width="4" height="2" fill="#b0d46c"/>
<rect x="501" y="141" width="4" height="2" fill="#f0f0df"/>
<rect x="501" y="146" width="4" height="2" fill="#b0d46c"/>
<rect x="501" y="148" width="4" height="2" fill="#33c05c"/>
<rect x="501" y="150" width="4" height="2" fill="#440154"/>
<rect x="501" y="152" width="4" height="2" fill="#31688e"/>
<rect x="501" y="154" width="4" height="2" fill="#31688e"/>
<rect x="501" y="156" width="4" height="2" fill="#86d44c"/>
<rect x="501" y="158" width="4" height="2" fill="#f0f0df"/>
<rect x="505" y="108" width="3" height="2" fill="#f0f0df"/>
<rect x="505" y="114" width="3" height="2" fill="#cfe2a1"/>
<rect x="505" y="116" width="3" height="2" fill="#cfe2a1"/>
<rect x="505" y="120" width="3" height="1" fill="#cfe2a1"/>
<rect x="505" y="121" width="3" height="2" fill="#cfe2a1"/>
<rect x="505" y="123" width="3" height="2" fill="#f0f0df"/>
<rect x="505" y="125" width="3" height="2" fill="#cfe2a1"/>
<rect x="505" y="127" width="3" height="2" fill="#b0d46c"/>
<rect x="505" y="129" width="3" height="2" fill="#cfe2a1"/>
<rect x="505" y="131" width="3" height="2" fill="#cfe2a1"/>
<rect x="505" y="133" width="3" height="2" fill="#cfe2a1"/>
<rect x="505" y="135" width="3" height="2" fill="#cfe2a1"/>
<rect x="505" y="137" width="3" height="2" fill="#33c05c"/>
<rect x="505" y="139" width="3" height="2" fill="#33c05c"/>
<rect x="505" y="141" width="3" height="2" fill="#11a878"/>
<rect x="505" y="143" width="3" height="1" fill="#b0d46c"/>
<rect x="505" y="144" width="3" height="2" fill="#cfe2a1"/>
<rect x="505" y="146" width="3" height="2" fill="#cfe2a1"/>
<rect x="505" y="148" width="3" height="2" fill="#cfe2a1"/>
<rect x="508" y="108" width="4" height="2" fill="#f0f0df"/>
<rect x="508" y="114" width="4" height="2" fill="#cfe2a1"/>
<rect x="508" y="116" width="4" height="2" fill="#cfe2a1"/>
<rect x="508" y="120" width="4" height="1" fill="#cfe2a1"/>
<rect x="508" y="121" width="4" height="2" fill="#cfe2a1"/>
<rect x="508" y="123" width="4" height="2" fill="#f0f0df"/>
<rect x="508" y="125" width="4" height="2" fill="#cfe2a1"/>
<rect x="508" y="127" width="4" height="2" fill="#b0d46c"/>
<rect x="508" y="129" width="4" height="2" fill="#cfe2a1"/>
<rect x="508" y="131" width="4" height="2" fill="#cfe2a1"/>
<rect x="508" y="133" width="4" height="2" fill="#cfe2a1"/>
<rect x="508" y="135" width="4" height="2" fill="#cfe2a1"/>
<rect x="508" y="137" width="4" height="2" fill="#33c05c"/>
<rect x="508" y="139" width="4" height="2" fill="#33c05c"/>
<rect x="508" y="141" width="4" height="2" fill="#11a878"/>
<rect x="508" y="143" width="4" height="1" fill="#b0d46c"/>
<rect x="508" y="144" width="4" height="2" fill="#cfe2a1"/>
<rect x="508" y="146" width="4" height="2" fill="#cfe2a1"/>
<rect x="508" y="148" width="4" height="2" fill="#cfe2a1"/>
<rect x="512" y="108" width="3" height="2" fill="#f0f0df"/>
<rect x="512" y="114" width="3" height="2" fill="#cfe2a1"/>
<rect x="512" y="116" width="3" height="2" fill="#cfe2a1"/>
<rect x="512" y="120" width="3" height="1" fill="#cfe2a1"/>
<rect x="512" y="121" width="3" height="2" fill="#cfe2a1"/>
<rect x="512" y="123" width="3" height="2" fill="#f0f0df"/>
<rect x="512" y="125" width="3" height="2" fill="#cfe2a1"/>
<rect x="512" y="127" width="3" height="2" fill="#b0d46c"/>
<rect x="512" y="129" width="3" height="2" fill="#cfe2a1"/>
<rect x="512" y="131" width="3" height="2" fill="#cfe2a1"/>
<rect x="512" y="133" width="3" height="2" fill="#cfe2a1"/>
<rect x="512" y="135" width="3" height="2" fill="#cfe2a1"/>
<rect x="512" y="137" width="3" height="2" fill="#33c05c"/>
<rect x="512" y="139" width="3" height="2" fill="#33c05c"/>
<rect x="512" y="141" width="3" height="2" fill="#11a878"/>
<rect x="512" y="143" width="3" height="1" fill="#b0d46c"/>
<rect x="512" y="144" width="3" height="2" fill="#cfe2a1"/>
<rect x="512" y="146" width="3" height="2" fill="#cfe2a1"/>
<rect x="512" y="148" width="3" height="2" fill="#cfe2a1"/>
<rect x="515" y="108" width="3" height="2" fill="#f0f0df"/>
<rect x="515" y="114" width="3" height="2" fill="#cfe2a1"/>
<rect x="515" y="116" width="3" height="2" fill="#cfe2a1"/>
<rect x="515" y="120" width="3" height="1" fill="#cfe2a1"/>
<rect x="515" y="121" width="3" height="2" fill="#cfe2a1"/>
<rect x="515" y="123" width="3" height="2" fill="#f0f0df"/>
<rect x="515" y="125" width="3" height="2" fill="#cfe2a1"/>
<rect x="515" y="127" width="3" height="2" fill="#b0d46c"/>
<rect x="515" y="129" width="3" height="2" fill="#cfe2a1"/>
<rect x="515" y="131" width="3" height="2" fill="#cfe2a1"/>
<rect x="515" y="133" width="3" height="2" fill="#cfe2a1"/>
<rect x="515" y="135" width="3" height="2" fill="#cfe2a1"/>
<rect x="515" y="137" width="3" height="2" fill="#33c05c"/>
<rect x="515" y="139" width="3" height="2" fill="#33c05c"/>
<rect x="515" y="141" width="3" height="2" fill="#11a878"/>
<rect x="515" y="143" width="3" height="1" fill="#b0d46c"/>
<rect x="515" y="144" width="3" height="2" fill="#cfe2a1"/>
<rect x="515" y="146" width="3" height="2" fill="#cfe2a1"/>
<rect x="515" y="148" width="3" height="2" fill="#cfe2a1"/>
<rect x="518" y="108" width="5" height="2" fill="#f0f0df"/>
<rect x="518" y="114" width="5" height="2" fill="#cfe2a1"/>
<rect x="518" y="116" width="5" height="2" fill="#cfe2a1"/>
<rect x="518" y="120" width="5" height="1" fill="#cfe2a1"/>
<rect x="518" y="121" width="5" height="2" fill="#cfe2a1"/>
<rect x="518" y="123" width="5" height="2" fill="#f0f0df"/>
<rect x="518" y="125" width="5" height="2" fill="#cfe2a1"/>
<rect x="518" y="127" width="5" height="2" fill="#b0d46c"/>
<rect x="518" y="129" width="5" height="2" fill="#cfe2a1"/>
<rect x="518" y="131" width="5" height="2" fill="#cfe2a1"/>
<rect x="518" y="133" width="5" height="2" fill="#cfe2a1"/>
<rect x="518" y="135" width="5" height="2" fill="#cfe2a1"/>
<rect x="518" y="137" width="5" height="2" fill="#33c05c"/>
<rect x="518" y="139" width="5" height="2" fill="#33c05c"/>
<rect x="518" y="141" width="5" height="2" fill="#11a878"/>
<rect x="518" y="143" width="5" height="1" fill="#b0d46c"/>
<rect x="518" y="144" width="5" height="2" fill="#cfe2a1"/>
<rect x="518" y="146" width="5" height="2" fill="#cfe2a1"/>
<rect x="518" y="148" width="5" height="2" fill="#cfe2a1"/>
</g>
<path d="M105.5 48V336M121.5 48V336M132.5 48V336M141.5 48V336M149.5 48V336M155.5 48V336M160.5 48V336M165.5 48V336M169.5 48V336M197.5 48V336M213.5 48V336M224.5 48V336M233.5 48V336M241.5 48V336M247.5 48V336M252.5 48V336M257.5 48V336M261.5 48V336M289.5 48V336M305.5 48V336M317.5 48V336M326.5 48V336M333.5 48V336M339.5 48V336M344.5 48V336M349.5 48V336M353.5 48V336M381.5 48V336M397.5 48V336M409.5 48V336M418.5 48V336M425.5 48V336M431.5 48V336M437.5 48V336M441.5 48V336M445.5 48V336M473.5 48V336M489.5 48V336M501.5 48V336M510.5 48V336M517.5 48V336M523.5 48V336M529.5 48V336M533.5 48V336M76.8 298.5H537.6M76.8 259.5H537.6M76.8 221.5H537.6M76.8 182.5H537.6M76.8 144.5H537.6M76.8 106.5H537.6M76.8 67.5H537.6" stroke="#b0b0b0" stroke-width="1.11" fill="none"/>
<g clip-path="url(#ca)">
<path d="M104.58 187.6L108.05 185.2L111.52 183.8L114.99 183.1L118.46 182.61L121.92 178.77L125.39 174.61L128.86 175.59L132.33 177.01L135.8 178L139.26 178.59L142.73 179.16L146.2 179.51L149.67 179.68L153.13 179.71L156.6 179.71L160.07 179.72L163.54 179.73L167.01 179.73L170.47 179.74L173.94 179.75L177.41 179.75L180.88 179.76L184.35 179.77L187.81 179.78L191.28 179.78L194.75 179.79L198.22 179.8L201.69 179.81L205.15 179.83L208.62 179.86L212.09 179.88L215.56 179.9L219.02 179.93L222.49 179.95L225.96 179.97L229.43 180L232.9 180L236.36 180L239.83 180L243.3 180L246.77 180L250.24 180L253.7 180L257.17 180L260.64 180L264.11 180L267.58 180L271.04 180L274.51 180L277.98 180L281.45 180L284.91 180L288.38 180L291.85 180L295.32 180L298.79 179.65L302.25 179.22L305.72 178.78L309.19 178.43L312.66 178.08L316.13 177.33L319.59 176.46L323.06 175.69L326.53 174.99L330 174.53L333.47 174.37L336.93 174.29L340.4 174.46L343.87 174.64L347.34 175.01L350.8 175.38L354.27 175.58L357.74 175.75L361.21 175.68L364.68 175.61L368.14 175.39L371.61 175.16L375.08 174.89L378.55 174.62L382.02 174.28L385.48 173.92L388.95 173.47L392.42 172.91L395.89 172.34L399.36 171.7L402.82 171.14L406.29 170.73L409.76 170.28L413.23 169.75L416.69 169.2L420.16 168.35L423.63 167.49L427.1 166.62L430.57 165.74L434.03 164.6L437.5 163.38L440.97 162.01L444.44 160.41L447.91 159.1L451.37 157.61L454.84 157.1L458.31 156L461.78 155.75L465.25 153.8L468.71 153.5L472.18 152.9L475.65 152.3L479.12 150.9L482.59 150.85L486.05 150.8L489.52 150.68L492.99 150.56L496.46 150.44L499.92 150.32L503.39 150.2L506.86 134.24L510.33 134.2L513.8 134.2L517.26 134.2L520.73 134.2" stroke="#000" stroke-width="2.08" fill="none" stroke-linejoin="round" stroke-linecap="square"/>
<path d="M168.96 127.68L200.52 139.02L215.51 164.16L252.19 182.4L314.55 140.16L322.2 137.28L334.79 145.92L343.85 169.91L370.56 182.4L381.02 217.91L496.13 193.93L565.34 148.32" stroke="#666666" stroke-width="2.78" fill="none" stroke-linejoin="round" stroke-linecap="square"/>
<path d="M168.96 274.56L190.2 272.06L224.45 272.06L252.19 276.87L269.73 266.3L296.16 237.4L319.5 222.91L325.54 222.9L332.83 238.08L353.28 266.4L360.58 271.19L371.08 263.29L384.66 292.81L399.33 307.19L413.48 312L431.16 312L445.84 307.2L462.72 307.18L492.98 311.98L517.15 306.01L565.34 279.31" stroke="#666666" stroke-width="2.78" fill="none" stroke-linejoin="round" stroke-linecap="square"/>
</g>
<path d="M77.5 48.5H538.5V336.5H77.5Z" stroke="#000" stroke-width="1.11" fill="none" stroke-linejoin="miter"/>
<path d="M71.94 336.5H76.8M71.94 298.5H76.8M71.94 259.5H76.8M71.94 221.5H76.8M71.94 182.5H76.8M71.94 144.5H76.8M71.94 106.5H76.8M71.94 67.5H76.8M77.5 336V340.86M169.5 336V340.86M261.5 336V340.86M353.5 336V340.86M445.5 336V340.86M538.5 336V340.86" stroke="#000" stroke-width="1.11" fill="none"/>
<path d="M105.5 336V338.78M121.5 336V338.78M132.5 336V338.78M141.5 336V338.78M149.5 336V338.78M155.5 336V338.78M160.5 336V338.78M165.5 336V338.78M197.5 336V338.78M213.5 336V338.78M224.5 336V338.78M233.5 336V338.78M241.5 336V338.78M247.5 336V338.78M252.5 336V338.78M257.5 336V338.78M289.5 336V338.78M305.5 336V338.78M317.5 336V338.78M326.5 336V338.78M333.5 336V338.78M339.5 336V338.78M344.5 336V338.78M349.5 336V338.78M381.5 336V338.78M397.5 336V338.78M409.5 336V338.78M418.5 336V338.78M425.5 336V338.78M431.5 336V338.78M437.5 336V338.78M441.5 336V338.78M473.5 336V338.78M489.5 336V338.78M501.5 336V338.78M510.5 336V338.78M517.5 336V338.78M523.5 336V338.78M529.5 336V338.78M533.5 336V338.78" stroke="#000" stroke-width="0.83" fill="none"/>
<text transform="translate(67.08 341) translate(-36.5 0) scale(1.3281 1)" x="0" font-size="13.47" fill="#000" xml:space="preserve" style="white-space:pre">−</text>
<text transform="translate(67.08 341) translate(-26.51 0) scale(0.9800 1)" x="0.41 9.43 18.45" font-size="14.72" fill="#000" xml:space="preserve" style="white-space:pre">200</text>
<text transform="translate(67.08 303) translate(-36.5 0) scale(1.3281 1)" x="0" font-size="13.47" fill="#000" xml:space="preserve" style="white-space:pre">−</text>
<text transform="translate(67.08 303) translate(-26.51 0) scale(0.9800 1)" x="0.41 9.43 18.45" font-size="14.72" fill="#000" xml:space="preserve" style="white-space:pre">180</text>
<text transform="translate(67.08 265) translate(-36.5 0) scale(1.3281 1)" x="0" font-size="13.47" fill="#000" xml:space="preserve" style="white-space:pre">−</text>
<text transform="translate(67.08 265) translate(-26.51 0) scale(0.9800 1)" x="0.41 9.43 18.45" font-size="14.72" fill="#000" xml:space="preserve" style="white-space:pre">160</text>
<text transform="translate(67.08 226) translate(-36.5 0) scale(1.3281 1)" x="0" font-size="13.47" fill="#000" xml:space="preserve" style="white-space:pre">−</text>
<text transform="translate(67.08 226) translate(-26.51 0) scale(0.9800 1)" x="0.41 9.43 18.45" font-size="14.72" fill="#000" xml:space="preserve" style="white-space:pre">140</text>
<text transform="translate(67.08 188) translate(-36.5 0) scale(1.3281 1)" x="0" font-size="13.47" fill="#000" xml:space="preserve" style="white-space:pre">−</text>
<text transform="translate(67.08 188) translate(-26.51 0) scale(0.9800 1)" x="0.41 9.43 18.45" font-size="14.72" fill="#000" xml:space="preserve" style="white-space:pre">120</text>
<text transform="translate(67.08 150) translate(-36.5 0) scale(1.3281 1)" x="0" font-size="13.47" fill="#000" xml:space="preserve" style="white-space:pre">−</text>
<text transform="translate(67.08 150) translate(-26.51 0) scale(0.9800 1)" x="0.41 9.43 18.45" font-size="14.72" fill="#000" xml:space="preserve" style="white-space:pre">100</text>
<text transform="translate(67.08 111) translate(-27.5 0) scale(1.3281 1)" x="0" font-size="13.47" fill="#000" xml:space="preserve" style="white-space:pre">−</text>
<text transform="translate(67.08 111) translate(-17.67 0) scale(0.9800 1)" x="0.41 9.43" font-size="14.72" fill="#000" xml:space="preserve" style="white-space:pre">80</text>
<text transform="translate(67.08 73) translate(-27.5 0) scale(1.3281 1)" x="0" font-size="13.47" fill="#000" xml:space="preserve" style="white-space:pre">−</text>
<text transform="translate(67.08 73) translate(-17.67 0) scale(0.9800 1)" x="0.41 9.43" font-size="14.72" fill="#000" xml:space="preserve" style="white-space:pre">60</text>
<text transform="translate(76.8 357) translate(-15.46 0) scale(0.9800 1)" x="0.41 9.22 13.94 22.95" font-size="14.72" fill="#000" xml:space="preserve" style="white-space:pre">0.01</text>
<text transform="translate(168.96 357) translate(-11.04 0) scale(0.9800 1)" x="0.41 9.22 13.94" font-size="14.72" fill="#000" xml:space="preserve" style="white-space:pre">0.1</text>
<text transform="translate(261.12 357) translate(-4.42 0) scale(0.9800 1)" x="0.41" font-size="14.72" fill="#000" xml:space="preserve" style="white-space:pre">1</text>
<text transform="translate(353.28 357) translate(-8.84 0) scale(0.9800 1)" x="0.41 9.43" font-size="14.72" fill="#000" xml:space="preserve" style="white-space:pre">10</text>
<text transform="translate(445.44 357) translate(-13.25 0) scale(0.9800 1)" x="0.41 9.43 18.45" font-size="14.72" fill="#000" xml:space="preserve" style="white-space:pre">100</text>
<text transform="translate(537.6 357) translate(-17.67 0) scale(0.9800 1)" x="0.41 9.43 18.45 27.47" font-size="14.72" fill="#000" xml:space="preserve" style="white-space:pre">1000</text>
<text transform="translate(307.2 376.4) translate(-33.15 0) scale(0.9800 1)" x="-0.64 8.81 17.73 23.43 27.27 36.1 44.9 49.92 54.74 62.83" font-size="14.72" fill="#000" xml:space="preserve" style="white-space:pre">Period [s]</text>
<text transform="translate(19.7 193) rotate(-90) translate(-38.04 0) scale(0.9800 1)" x="-0.64 8.79 17.7 29.07 37.99 43.56 48.58 53.79 62.34 72.83" font-size="14.72" fill="#000" xml:space="preserve" style="white-space:pre">Power [dB]</text>
<text transform="translate(107 9.75) translate(0 0) scale(0.9790 1)" x="-0.04 8.51 17.3 20.84 29.94 36.83 45.99 54.96 59.2 67.31 75.24 79.12 88.69 97.85 106.49 110.54 114.6 118.84 126.95 135.07 143.18 151.02 155.9 164.02 171.85 176.73 184.85 192.78 196.74 201.34 206.04 210.28 218.39 226.51 234.62 242.46 247.34 255.46 263.29 268.17 276.29 284.22 288.27 292.42 297.49 305.6 313.66 318.02 326.13 334.06 337.94 344.81 352.79 361.21 373.18 381.15 389.53 393.89 400.8" font-size="13.25" fill="#000" xml:space="preserve" style="white-space:pre">BK.CLRV.00.HNE   2021-12-08 -- 2021-12-09  (47/47 segments)</text>
<text transform="translate(160.2 24.75) translate(0 0) scale(0.9791 1)" x="0.01 6.88 14.85 22.59 29.44 37.44 41.77 49.31 54.11 61.56 69.53 77.33 80.81 88.68 96.99 100.34 108.42 116.85 126.03 134.37 144.19 153.01 161.09 169.65 174.01 182.14 186.02 192.89 200.86 208.59 215.45 223.45 227.78 234.67 241.66 249.57 253.05 261.13 269.44 277.48 281.95 290.68" font-size="13.25" fill="#000" xml:space="preserve" style="white-space:pre">sensor_type EPISENSORES-T sensor_sn EST-BV</text>
<text transform="translate(177.2 39.75) translate(0 0) scale(0.9817 1)" x="0.36 8.32 16.57 21.14 29.03 32.49 40.44 48.54 56.51 64.53 68.87 76.4 81.2 88.65 96.62 104.42 108.15 118.7 126.63 130.86 138.82 147.07 151.63 159.53 162.99 170.94 179.03 187.01 195.03 199.36 206.25 213.24 221.15 224.89 235.43 243.27 247.73 256.47" font-size="13.25" fill="#000" xml:space="preserve" style="white-space:pre">datalogger_type Q8 datalogger_sn Q8-BV</text>
<rect x="567" y="230" width="5" height="106" fill="url(#cbg)"/>
<rect x="566.5" y="229.5" width="6" height="107" fill="none" stroke="#000" stroke-width="1.11"/>
<text transform="translate(590.5 342) translate(0 0) scale(0.9800 1)" x="0.41" font-size="14.72" fill="#000" xml:space="preserve" style="white-space:pre">0</text>
<text transform="translate(590.5 324.1) translate(0 0) scale(0.9800 1)" x="0.41" font-size="14.72" fill="#000" xml:space="preserve" style="white-space:pre">5</text>
<text transform="translate(590.5 306.2) translate(0 0) scale(0.9800 1)" x="0.41 9.43" font-size="14.72" fill="#000" xml:space="preserve" style="white-space:pre">10</text>
<text transform="translate(590.5 288.3) translate(0 0) scale(0.9800 1)" x="0.41 9.43" font-size="14.72" fill="#000" xml:space="preserve" style="white-space:pre">15</text>
<text transform="translate(590.5 270.4) translate(0 0) scale(0.9800 1)" x="0.41 9.43" font-size="14.72" fill="#000" xml:space="preserve" style="white-space:pre">20</text>
<text transform="translate(590.5 252.5) translate(0 0) scale(0.9800 1)" x="0.41 9.43" font-size="14.72" fill="#000" xml:space="preserve" style="white-space:pre">25</text>
<text transform="translate(590.5 234.6) translate(0 0) scale(0.9800 1)" x="0.41 9.43" font-size="14.72" fill="#000" xml:space="preserve" style="white-space:pre">30</text>
<path d="M581.1 336.5H586.3M581.1 318.5H586.3M581.1 300.5H586.3M581.1 282.5H586.3M581.1 264.5H586.3M581.1 247.5H586.3M581.1 229.5H586.3" stroke="#000" stroke-width="1.11" fill="none"/>
<text transform="translate(624.5 194.4) rotate(-90) translate(-12.02 0) scale(0.9800 1)" x="0.72 5.72 19.72" font-size="14.72" fill="#000" xml:space="preserve" style="white-space:pre">[%]</text>
<rect x="116.36" y="386.88" width="407.27" height="11.52" fill="#0000ff"/>
<rect x="116.36" y="379.2" width="407.27" height="7.68" fill="#008000"/>
<path d="M96.5 379.5H544.5V398.5H96.5Z" stroke="#000" stroke-width="1.11" fill="none"/>
<text transform="translate(60.43 449.13) rotate(-30) translate(0 0) scale(0.9800 1)" x="0.41 9.43 18.14 23.56 32.58 41.39 46.1 55.12" font-size="14.72" fill="#000" xml:space="preserve" style="white-space:pre">12-09 00</text>
<text transform="translate(111.34 449.13) rotate(-30) translate(0 0) scale(0.9800 1)" x="0.41 9.43 18.14 23.56 32.58 41.39 46.1 55.12" font-size="14.72" fill="#000" xml:space="preserve" style="white-space:pre">12-09 03</text>
<text transform="translate(162.25 449.13) rotate(-30) translate(0 0) scale(0.9800 1)" x="0.41 9.43 18.14 23.56 32.58 41.39 46.1 55.12" font-size="14.72" fill="#000" xml:space="preserve" style="white-space:pre">12-09 06</text>
<text transform="translate(213.16 449.13) rotate(-30) translate(0 0) scale(0.9800 1)" x="0.41 9.43 18.14 23.56 32.58 41.39 46.1 55.12" font-size="14.72" fill="#000" xml:space="preserve" style="white-space:pre">12-09 09</text>
<text transform="translate(264.07 449.13) rotate(-30) translate(0 0) scale(0.9800 1)" x="0.41 9.43 18.14 23.56 32.58 41.39 46.1 55.12" font-size="14.72" fill="#000" xml:space="preserve" style="white-space:pre">12-09 12</text>
<text transform="translate(314.98 449.13) rotate(-30) translate(0 0) scale(0.9800 1)" x="0.41 9.43 18.14 23.56 32.58 41.39 46.1 55.12" font-size="14.72" fill="#000" xml:space="preserve" style="white-space:pre">12-09 15</text>
<text transform="translate(365.89 449.13) rotate(-30) translate(0 0) scale(0.9800 1)" x="0.41 9.43 18.14 23.56 32.58 41.39 46.1 55.12" font-size="14.72" fill="#000" xml:space="preserve" style="white-space:pre">12-09 18</text>
<text transform="translate(416.8 449.13) rotate(-30) translate(0 0) scale(0.9800 1)" x="0.41 9.43 18.14 23.56 32.58 41.39 46.1 55.12" font-size="14.72" fill="#000" xml:space="preserve" style="white-space:pre">12-09 21</text>
<text transform="translate(467.71 449.13) rotate(-30) translate(0 0) scale(0.9800 1)" x="0.41 9.43 18.14 23.56 32.58 41.39 46.1 55.12" font-size="14.72" fill="#000" xml:space="preserve" style="white-space:pre">12-10 00</text>
<path d="M116.5 398.4V403.26M167.5 398.4V403.26M218.5 398.4V403.26M269.5 398.4V403.26M320.5 398.4V403.26M371.5 398.4V403.26M422.5 398.4V403.26M473.5 398.4V403.26M524.5 398.4V403.26" stroke="#000" stroke-width="1.11" fill="none"/>
</svg>
</body></html>
